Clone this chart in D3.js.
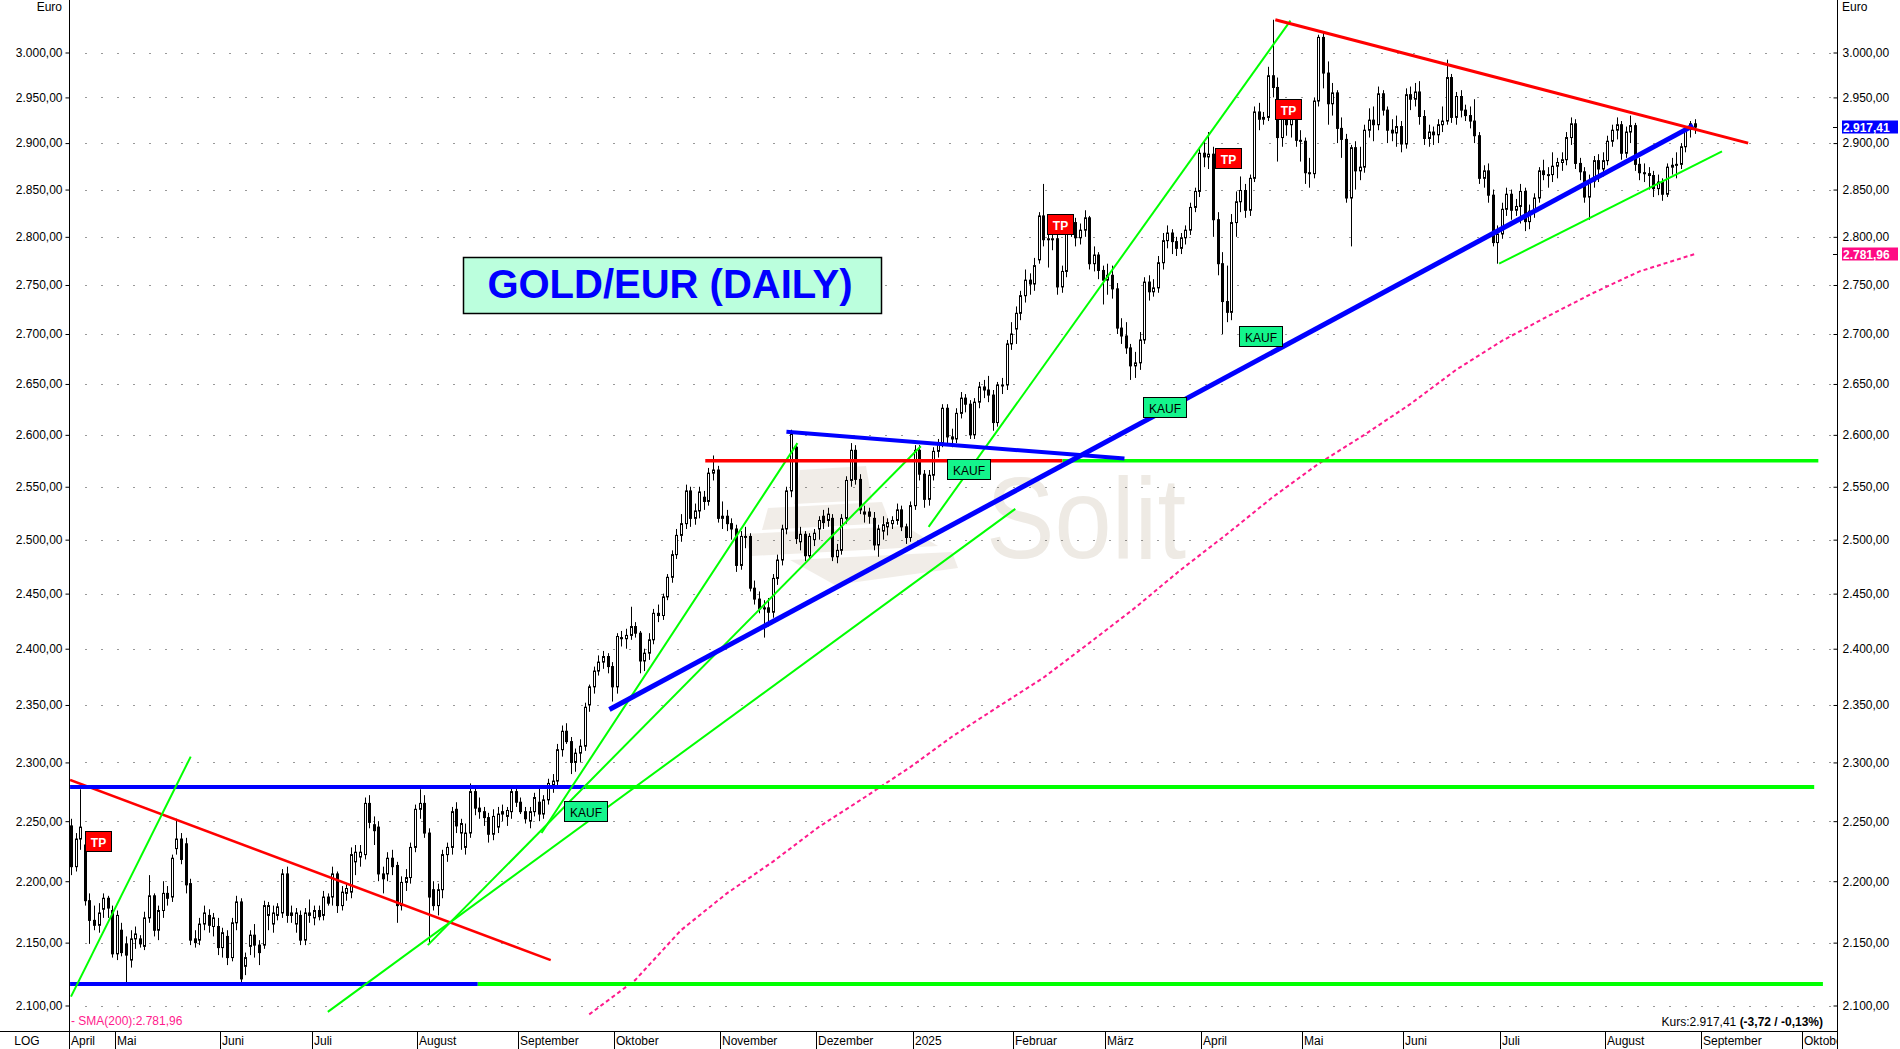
<!DOCTYPE html>
<html><head><meta charset="utf-8">
<script src="https://cdn.jsdelivr.net/npm/d3@7"></script>
<style>
html,body{margin:0;padding:0;background:#fff;}
svg{display:block;}
text{font-family:"Liberation Sans",Arial,sans-serif;}
</style></head><body>
<svg id="c" width="1900" height="1049"></svg>
<script>
// ---------------- DATA ----------------
// daily candles [open, high, low, close] per month (weekdays)
const apr24=[[2246,2252,2205,2212],[2212,2240,2208,2235],[2235,2277,2226,2245],[2230,2233,2180,2184],[2184,2190,2149,2168],[2168,2180,2160,2164],[2164,2182,2158,2174],[2177,2190,2170,2186],[2186,2188,2170,2178],[2176,2180,2138,2141]];
const may24=[[2141,2176,2136,2172],[2160,2166,2139,2142],[2149,2155,2116,2140],[2136,2160,2130,2153],[2153,2163,2145,2157],[2153,2156,2146,2149],[2147,2175,2144,2170],[2170,2205,2166,2188],[2188,2190,2155,2160],[2160,2180,2152,2176],[2176,2200,2170,2190],[2190,2196,2180,2186],[2187,2222,2183,2219],[2227,2252,2222,2235],[2235,2240,2214,2218],[2231,2236,2190,2197],[2198,2202,2148,2152],[2153,2160,2146,2150],[2152,2170,2148,2165],[2165,2180,2160,2174],[2172,2177,2158,2164],[2163,2174,2155,2170],[2163,2170,2140,2146]];
const jun24=[[2146,2162,2138,2158],[2155,2160,2132,2138],[2138,2170,2135,2166],[2166,2188,2160,2183],[2183,2186,2118,2121],[2131,2142,2124,2138],[2147,2160,2140,2156],[2156,2165,2138,2148],[2148,2152,2132,2142],[2148,2184,2145,2180],[2172,2183,2160,2180],[2165,2180,2158,2174],[2172,2182,2168,2179],[2174,2210,2170,2206],[2206,2212,2166,2172],[2174,2180,2166,2172],[2165,2178,2158,2174],[2172,2176,2148,2152],[2152,2178,2148,2174],[2172,2185,2166,2174]];
const jul24=[[2170,2180,2164,2176],[2176,2180,2168,2171],[2172,2192,2168,2187],[2187,2190,2180,2182],[2187,2212,2180,2206],[2206,2208,2174,2180],[2180,2196,2176,2191],[2190,2198,2184,2194],[2191,2228,2186,2222],[2216,2230,2205,2224],[2220,2230,2212,2224],[2222,2270,2218,2265],[2265,2272,2244,2249],[2247,2254,2230,2242],[2245,2250,2200,2206],[2206,2212,2190,2202],[2206,2224,2200,2219],[2219,2226,2205,2212],[2213,2216,2166,2180],[2180,2204,2176,2199],[2199,2210,2192,2203],[2203,2232,2198,2228],[2228,2264,2224,2260]];
const aug24=[[2260,2277,2252,2265],[2265,2272,2236,2240],[2240,2244,2150,2187],[2193,2200,2176,2180],[2180,2198,2172,2193],[2193,2226,2186,2222],[2222,2232,2216,2228],[2228,2262,2222,2258],[2260,2266,2240,2246],[2240,2252,2226,2248],[2228,2248,2222,2240],[2240,2282,2236,2275],[2275,2279,2255,2261],[2261,2270,2252,2258],[2258,2262,2246,2253],[2253,2257,2232,2239],[2239,2260,2234,2254],[2245,2262,2240,2256],[2258,2264,2250,2256],[2254,2262,2246,2259],[2258,2280,2252,2275],[2275,2278,2262,2266]];
const sep24=[[2266,2270,2256,2258],[2258,2262,2248,2252],[2250,2262,2244,2258],[2258,2274,2254,2270],[2266,2278,2250,2256],[2256,2272,2252,2268],[2268,2286,2264,2282],[2281,2290,2274,2284],[2284,2316,2280,2311],[2311,2332,2305,2327],[2327,2334,2316,2318],[2318,2322,2290,2300],[2300,2312,2292,2308],[2308,2320,2300,2314],[2314,2352,2310,2348],[2350,2368,2344,2366],[2366,2384,2360,2380],[2380,2394,2376,2388],[2388,2398,2382,2393],[2393,2396,2378,2384],[2384,2388,2353,2366]];
const oct24=[[2366,2414,2360,2411],[2410,2416,2402,2409],[2409,2418,2400,2412],[2412,2438,2408,2420],[2420,2424,2410,2414],[2414,2416,2378,2389],[2389,2400,2380,2396],[2396,2414,2390,2408],[2408,2436,2404,2432],[2432,2440,2424,2430],[2430,2450,2426,2447],[2447,2468,2444,2465],[2465,2490,2460,2486],[2486,2510,2482,2504],[2504,2524,2498,2515],[2515,2552,2510,2546],[2546,2550,2512,2520],[2520,2534,2514,2527],[2527,2550,2520,2545],[2540,2546,2528,2536],[2536,2568,2532,2563],[2563,2580,2556,2566],[2566,2570,2516,2520]];
const nov24=[[2520,2536,2510,2522],[2522,2528,2508,2515],[2515,2520,2500,2510],[2510,2514,2470,2476],[2476,2508,2472,2503],[2503,2512,2492,2503],[2503,2506,2452,2455],[2455,2462,2440,2445],[2445,2452,2432,2436],[2436,2444,2410,2437],[2437,2446,2420,2433],[2433,2468,2428,2464],[2464,2486,2458,2481],[2481,2514,2476,2510],[2510,2550,2505,2546],[2546,2605,2540,2601],[2588,2592,2496,2501],[2498,2512,2490,2505],[2505,2508,2480,2485],[2485,2506,2482,2503],[2500,2510,2494,2506]];
const dec24=[[2510,2522,2500,2518],[2522,2528,2510,2516],[2518,2530,2512,2524],[2520,2524,2480,2484],[2484,2496,2478,2490],[2490,2524,2486,2520],[2520,2560,2515,2556],[2556,2592,2550,2585],[2585,2590,2552,2557],[2557,2562,2524,2528],[2524,2532,2516,2526],[2526,2530,2515,2522],[2520,2526,2490,2495],[2495,2514,2484,2510],[2508,2522,2500,2514],[2512,2520,2504,2516],[2515,2522,2510,2518],[2518,2534,2514,2528],[2528,2532,2508,2512],[2512,2515,2496,2502],[2502,2536,2498,2532]];
const jan25=[[2532,2590,2528,2585],[2585,2590,2556,2562],[2562,2566,2530,2538],[2538,2566,2532,2561],[2561,2588,2556,2584],[2584,2596,2578,2592],[2592,2630,2588,2626],[2626,2630,2592,2598],[2598,2606,2588,2596],[2596,2626,2592,2621],[2621,2642,2616,2636],[2636,2640,2622,2630],[2630,2634,2596,2600],[2600,2636,2596,2632],[2632,2652,2626,2647],[2647,2654,2636,2644],[2644,2658,2632,2639],[2639,2644,2604,2612],[2612,2652,2608,2649],[2649,2656,2640,2649],[2649,2694,2644,2690],[2690,2712,2684,2700]];
const feb25=[[2705,2728,2690,2721],[2721,2744,2714,2739],[2739,2766,2732,2755],[2755,2762,2740,2751],[2751,2778,2744,2770],[2776,2826,2772,2822],[2822,2856,2790,2797],[2797,2812,2768,2798],[2798,2818,2786,2798],[2798,2802,2740,2748],[2748,2770,2742,2764],[2764,2814,2758,2810],[2810,2824,2800,2815],[2815,2820,2790,2799],[2799,2814,2792,2807],[2807,2828,2800,2820],[2820,2822,2766,2772],[2772,2790,2764,2781],[2781,2784,2756,2765],[2765,2770,2730,2755]];
const mar25=[[2755,2772,2740,2760],[2760,2770,2736,2746],[2746,2752,2700,2706],[2706,2716,2690,2698],[2698,2712,2680,2686],[2686,2690,2654,2668],[2668,2682,2656,2671],[2671,2702,2664,2694],[2694,2758,2690,2753],[2753,2760,2734,2743],[2743,2756,2738,2747],[2747,2780,2742,2773],[2773,2804,2766,2796],[2796,2812,2788,2804],[2804,2808,2782,2795],[2795,2800,2780,2788],[2788,2804,2782,2799],[2799,2812,2792,2807],[2807,2836,2802,2831],[2831,2852,2826,2848],[2848,2894,2842,2889]];
const apr25=[[2889,2902,2874,2885],[2885,2912,2872,2888],[2888,2896,2800,2818],[2818,2826,2760,2772],[2772,2784,2700,2733],[2733,2770,2712,2722],[2722,2824,2714,2815],[2815,2848,2800,2837],[2837,2864,2826,2849],[2849,2856,2820,2828],[2828,2866,2822,2862],[2862,2940,2858,2934],[2934,2944,2914,2926],[2926,2934,2920,2928],[2928,2984,2924,2974],[2974,3037,2950,2961],[2961,2972,2880,2906],[2906,2946,2896,2940],[2940,2948,2908,2920],[2920,2936,2906,2927],[2927,2932,2896,2903],[2903,2914,2880,2902]];
const may25=[[2902,2906,2856,2868],[2868,2884,2852,2867],[2867,2950,2862,2946],[2946,3020,2940,3017],[3017,3022,2960,2977],[2977,2990,2920,2943],[2943,2966,2930,2955],[2955,2958,2900,2916],[2916,2928,2884,2904],[2904,2910,2836,2841],[2841,2898,2790,2895],[2895,2902,2850,2870],[2870,2896,2860,2874],[2874,2920,2868,2914],[2914,2938,2906,2925],[2925,2940,2902,2920],[2920,2962,2914,2954],[2954,2958,2930,2936],[2936,2940,2900,2914],[2914,2926,2902,2911],[2911,2930,2896,2918],[2918,2924,2890,2899]];
const jun25=[[2899,2960,2894,2953],[2953,2962,2936,2948],[2948,2966,2940,2956],[2956,2968,2920,2929],[2929,2936,2898,2905],[2905,2920,2896,2912],[2912,2918,2898,2909],[2909,2926,2900,2920],[2920,2940,2912,2924],[2924,2992,2920,2972],[2972,2976,2922,2928],[2928,2956,2920,2951],[2951,2958,2928,2936],[2936,2942,2924,2930],[2930,2940,2916,2924],[2924,2948,2900,2908],[2908,2912,2856,2862],[2862,2876,2852,2870],[2870,2878,2836,2844],[2844,2850,2790,2794],[2794,2812,2772,2803]];
const jul25=[[2803,2836,2798,2829],[2829,2852,2822,2845],[2845,2850,2818,2828],[2828,2840,2822,2832],[2832,2856,2814,2848],[2848,2852,2806,2816],[2816,2834,2808,2827],[2827,2846,2820,2841],[2841,2874,2836,2870],[2870,2882,2860,2866],[2866,2874,2852,2866],[2866,2890,2858,2875],[2875,2884,2862,2879],[2879,2890,2870,2882],[2882,2912,2876,2906],[2906,2928,2898,2921],[2921,2926,2872,2878],[2878,2884,2860,2869],[2869,2874,2836,2842],[2842,2866,2818,2859],[2859,2886,2852,2881],[2881,2888,2858,2872],[2872,2890,2864,2881]];
const aug25=[[2881,2908,2876,2902],[2902,2920,2896,2914],[2914,2928,2904,2920],[2920,2924,2882,2889],[2889,2918,2884,2912],[2912,2930,2900,2919],[2919,2922,2870,2877],[2877,2884,2860,2868],[2868,2878,2858,2867],[2867,2874,2850,2865],[2865,2870,2842,2851],[2851,2866,2844,2858],[2858,2862,2838,2845],[2845,2878,2842,2874],[2874,2884,2866,2876],[2876,2890,2862,2877],[2877,2900,2872,2896],[2896,2918,2890,2915],[2915,2924,2906,2921],[2921,2926,2910,2917.41]];

const smaDates=["2024-09-23","2024-10-07","2024-10-21","2024-11-04","2024-11-18","2024-12-02","2024-12-16","2024-12-31","2025-01-14","2025-01-28","2025-02-11","2025-02-25","2025-03-11","2025-03-25","2025-04-08","2025-04-22","2025-05-06","2025-05-20","2025-06-03","2025-06-17","2025-07-01","2025-07-15","2025-07-29","2025-08-12","2025-08-28"];
const smaValues=[2093,2120,2160,2190,2216,2245,2270,2296,2322,2348,2374,2405,2437,2472,2505,2540,2572,2600,2630,2664,2693,2718,2742,2764,2781.96];

// y-axis ticks
const yTicks=[2100,2150,2200,2250,2300,2350,2400,2450,2500,2550,2600,2650,2700,2750,2800,2850,2900,2950,3000];
// x-axis month labels (first weekday of month)
const monthStarts=["2024-05-01","2024-06-03","2024-07-01","2024-08-01","2024-09-02","2024-10-01","2024-11-01","2024-12-02","2025-01-02","2025-02-03","2025-03-03","2025-04-01","2025-05-01","2025-06-02","2025-07-01","2025-08-01","2025-09-01","2025-10-01"];
const monthLabels=["Mai","Juni","Juli","August","September","Oktober","November","Dezember","2025","Februar","März","April","Mai","Juni","Juli","August","September","Oktober"];
const firstLabel="April";

// trend lines in (trading-day index, price)
const trendLines=[
 {a:[-0.2,2285],b:[104.6,2136],c:"red",w:2.5},
 {a:[-0.2,2279],b:[112.2,2279],c:"blue",w:4},
 {a:[112.2,2279],b:[380.1,2279],c:"green",w:4},
 {a:[-0.2,2117],b:[88.7,2117],c:"blue",w:4},
 {a:[88.7,2117],b:[382.0,2117],c:"green",w:4},
 {a:[0,2107],b:[26.1,2305],c:"green",w:2},
 {a:[56.0,2095],b:[205.9,2529],c:"green",w:2},
 {a:[102.6,2240],b:[158.4,2592],c:"green",w:2},
 {a:[77.8,2148],b:[185.3,2589],c:"green",w:2},
 {a:[187.0,2512],b:[265.9,3036],c:"green",w:2},
 {a:[138.3,2575],b:[216.2,2575],c:"red",w:3.5},
 {a:[216.2,2575],b:[381.0,2575],c:"green",w:3.5},
 {a:[156.0,2603],b:[229.7,2577],c:"blue",w:4},
 {a:[117.4,2346],b:[353.7,2919],c:"blue",w:5},
 {a:[262.6,3037],b:[365.7,2900],c:"red",w:3},
 {a:[311.4,2772],b:[360.0,2891],c:"green",w:2}
];
// signal labels (index of left edge, price of top edge)
const signals=[
 {t:"TP",i:3.0,p:2242},{t:"TP",i:212.9,p:2824},{t:"TP",i:249.5,p:2895},{t:"TP",i:262.6,p:2948},
 {t:"KAUF",i:107.6,p:2267},{t:"KAUF",i:191.1,p:2577},{t:"KAUF",i:233.8,p:2637},{t:"KAUF",i:254.6,p:2708}
];
const lastPrice=2917.41, change=-3.72, changePct=-0.13, smaLast=2781.96;
const title="GOLD/EUR (DAILY)";

// ---------------- CHART ----------------
const W=1900,H=1049;
const skip=["2024-12-25","2025-01-01"];
function weekdays(from,to){const out=[];const d=new Date(from+"T00:00:00Z");const e=new Date(to+"T00:00:00Z");
 while(d<=e){const wd=d.getUTCDay();const s=d.toISOString().slice(0,10);if(wd>0&&wd<6&&!skip.includes(s))out.push(s);d.setUTCDate(d.getUTCDate()+1);}return out;}
const calendar=weekdays("2024-04-17","2025-10-31");
const idxOf=new Map(calendar.map((d,i)=>[d,i]));
const candles=[].concat(apr24,may24,jun24,jul24,aug24,sep24,oct24,nov24,dec24,jan25,feb25,mar25,apr25,may25,jun25,jul25,aug25);

const x=d3.scaleLinear().domain([0,354]).range([71,1694.5]);
const step=x(1)-x(0);
const y=d3.scaleLog().domain([2100,3000]).range([1005.5,52.5]);
const loc=d3.formatLocale({decimal:",",thousands:".",grouping:[3],currency:["",""],minus:"-"});
const fmt=loc.format(",.2f");

const svg=d3.select("#c");
svg.append("rect").attr("width",W).attr("height",H).attr("fill","#fff");
const defs=svg.append("defs");
defs.append("clipPath").attr("id","plot").append("rect").attr("x",70).attr("y",0).attr("width",1767).attr("height",1031);
defs.append("clipPath").attr("id","band").append("rect").attr("x",70).attr("y",1031).attr("width",1767).attr("height",18);

// watermark
const wm=svg.append("g").attr("fill","#eeeae4");
[[[800,470],[866,466],[872,500],[794,504]],
 [[768,508],[882,502],[890,523],[762,530]],
 [[742,534],[905,526],[938,546],[752,556]],
 [[790,560],[952,552],[958,568],[835,585]]].forEach(p=>wm.append("polygon").attr("points",p.map(q=>q.join(",")).join(" ")).attr("opacity",0.85));
wm.append("text").attr("x",986).attr("y",558).attr("font-family","'Liberation Serif','DejaVu Serif',serif").attr("font-size",115)
 .attr("textLength",200).attr("lengthAdjust","spacingAndGlyphs").text("Solit");

// dotted grid rows
svg.append("g").selectAll("line").data(yTicks).join("line")
 .attr("x1",85.5).attr("x2",1832).attr("y1",d=>Math.round(y(d))+0.5).attr("y2",d=>Math.round(y(d))+0.5)
 .attr("stroke","#333").attr("stroke-width",1).attr("stroke-dasharray","1 15");

// title box
svg.append("rect").attr("x",463.5).attr("y",257.5).attr("width",418).attr("height",56).attr("fill","#bbffdd").attr("stroke","#000").attr("stroke-width",1.5);
svg.append("text").attr("x",670).attr("y",298).attr("text-anchor","middle").attr("font-size",40).attr("font-weight","bold").attr("fill","#0000ff").text(title);

// axes
const gl=svg.append("g").attr("transform","translate(69.5,0)")
 .call(d3.axisLeft(y).tickValues(yTicks).tickFormat(fmt).tickSizeInner(4).tickSizeOuter(0).tickPadding(3));
const gr=svg.append("g").attr("transform","translate(1837.5,0)")
 .call(d3.axisRight(y).tickValues(yTicks).tickFormat(fmt).tickSizeInner(-4).tickSizeOuter(0).tickPadding(5));
[gl,gr].forEach(g=>{g.select(".domain").remove();g.selectAll("text").attr("font-size",12).attr("fill","#000").attr("font-family","'Liberation Sans',Arial,sans-serif");g.selectAll("line").attr("stroke","#000");});
svg.append("line").attr("x1",69.5).attr("x2",69.5).attr("y1",0).attr("y2",H).attr("stroke","#000");
svg.append("line").attr("x1",1837.5).attr("x2",1837.5).attr("y1",0).attr("y2",H).attr("stroke","#000");
svg.append("text").attr("x",62).attr("y",11).attr("text-anchor","end").attr("font-size",12).text("Euro");
svg.append("text").attr("x",1842).attr("y",11).attr("font-size",12).text("Euro");

// bottom band
svg.append("line").attr("x1",0).attr("x2",1837.5).attr("y1",1031.5).attr("y2",1031.5).attr("stroke","#000");
svg.append("text").attr("x",27).attr("y",1045).attr("text-anchor","middle").attr("font-size",12).text("LOG");
const band=svg.append("g").attr("clip-path","url(#band)");
band.append("text").attr("x",71).attr("y",1045).attr("font-size",12).text(firstLabel);
monthStarts.forEach((d,k)=>{const sx=Math.round(x(idxOf.get(d))-step/2)+0.5;
 band.append("line").attr("x1",sx).attr("x2",sx).attr("y1",1031).attr("y2",H).attr("stroke","#000");
 band.append("text").attr("x",sx+1.5).attr("y",1045).attr("font-size",12).text(monthLabels[k]);});

// plot content
const plot=svg.append("g").attr("clip-path","url(#plot)");
// SMA
plot.append("path").datum(smaDates.map((d,k)=>[idxOf.get(d),smaValues[k]]))
 .attr("d",d3.line().x(d=>x(d[0])).y(d=>y(d[1])))
 .attr("fill","none").attr("stroke","#ff1a8c").attr("stroke-width",2).attr("stroke-dasharray","4 3");
// candles
const cg=plot.append("g");
cg.selectAll("line").data(candles).join("line")
 .attr("x1",(d,i)=>Math.round(x(i))+0.5).attr("x2",(d,i)=>Math.round(x(i))+0.5)
 .attr("y1",d=>y(d[1])).attr("y2",d=>y(d[2])).attr("stroke","#000").attr("stroke-width",1);
cg.selectAll("rect").data(candles).join("rect")
 .attr("x",(d,i)=>Math.round(x(i))-0.5).attr("width",2)
 .attr("y",d=>y(Math.max(d[0],d[3]))).attr("height",d=>Math.max(1,Math.abs(y(d[0])-y(d[3]))))
 .attr("fill",d=>d[3]>=d[0]?"#fff":"#000").attr("stroke","#000").attr("stroke-width",1);
// trend lines
const colors={red:"#ff0000",blue:"#0000ff",green:"#00ff00"};
plot.selectAll("line.tl").data(trendLines).join("line").attr("class","tl")
 .attr("x1",d=>x(d.a[0])).attr("y1",d=>y(d.a[1])).attr("x2",d=>x(d.b[0])).attr("y2",d=>y(d.b[1]))
 .attr("stroke",d=>colors[d.c]).attr("stroke-width",d=>d.w);
// signals
signals.forEach(s=>{const bx=Math.round(x(s.i))+0.5,by=Math.round(y(s.p))+0.5;const tp=s.t==="TP";const w=tp?26:43;
 plot.append("rect").attr("x",bx).attr("y",by).attr("width",w).attr("height",20).attr("fill",tp?"#ff0000":"#14f58c").attr("stroke","#000");
 plot.append("text").attr("x",bx+w/2).attr("y",by+15).attr("text-anchor","middle").attr("font-size",12).attr("font-weight",tp?"bold":"normal").attr("fill",tp?"#fff":"#000").text(s.t);});

// legend / price texts
svg.append("text").attr("x",71).attr("y",1025).attr("font-size",12).attr("fill","#ff1a8c").text("- SMA(200):"+fmt(smaLast));
const kt=svg.append("text").attr("x",1823).attr("y",1026).attr("text-anchor","end").attr("font-size",12).attr("fill","#000");
kt.append("tspan").text("Kurs:"+fmt(lastPrice)+" ");
kt.append("tspan").attr("font-weight","bold").text("("+fmt(change)+" / "+fmt(changePct)+"%)");

// badges
[[lastPrice,"#0000ff"],[smaLast,"#ff0a84"]].forEach(([v,c])=>{const yy=y(v);
 svg.append("line").attr("x1",1833).attr("x2",1837).attr("y1",Math.round(yy)+0.5).attr("y2",Math.round(yy)+0.5).attr("stroke","#000");
 svg.append("rect").attr("x",1842).attr("y",Math.round(yy)-6.5).attr("width",56).attr("height",13).attr("fill",c);
 svg.append("text").attr("x",1843).attr("y",Math.round(yy)+4.5).attr("font-size",12).attr("font-weight","bold").attr("fill","#fff").text(fmt(v));});
</script></body></html>
